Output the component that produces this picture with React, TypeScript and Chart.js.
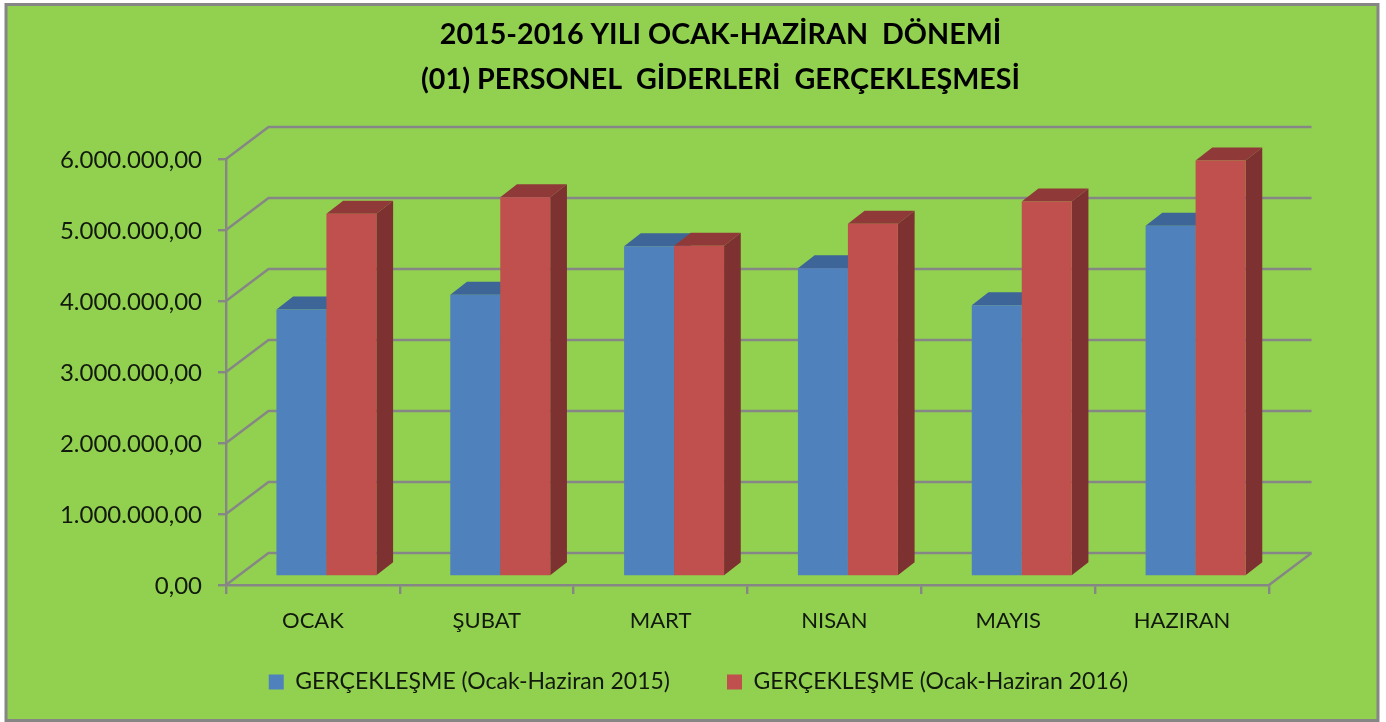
import React, { useEffect, useRef } from "react";
import { Chart, registerables } from "chart.js";

Chart.register(...registerables);

const categories = ["OCAK", "ŞUBAT", "MART", "NISAN", "MAYIS", "HAZIRAN"];
const series2015 = [3760000, 3970000, 4650000, 4340000, 3820000, 4940000];
const series2016 = [5110000, 5340000, 4660000, 4970000, 5280000, 5860000];
const label2015 = "GERÇEKLEŞME (Ocak-Haziran 2015)";
const label2016 = "GERÇEKLEŞME (Ocak-Haziran 2016)";
const titleLines = ["2015-2016 YILI OCAK-HAZİRAN  DÖNEMİ", "(01) PERSONEL  GİDERLERİ  GERÇEKLEŞMESİ"];

const FONT = "Lato";
const GRAY = "#868686";
const TEXT = "#111a0c";
const WALL = { dx: 42.5, dy: -32 };
const BAR_PLANE = { dx: 13.5, dy: -8.5 };
const BAR_DEPTH = { dx: 16.7, dy: -13 };

const fmt = (v: number) => {
  const s = String(Math.round(v)).replace(/\B(?=(\d{3})+(?!\d))/g, ".");
  return s + ",00";
};

const poly = (ctx: CanvasRenderingContext2D, pts: number[][], fill: string) => {
  ctx.beginPath();
  pts.forEach((p, i) => (i ? ctx.lineTo(p[0], p[1]) : ctx.moveTo(p[0], p[1])));
  ctx.closePath();
  ctx.fillStyle = fill;
  ctx.fill();
};

const drawBars3D = (chart: any, index: number, meta: any) => {
  const { ctx } = chart;
  const ds = chart.data.datasets[index];
  ctx.save();
  ctx.translate(BAR_PLANE.dx, BAR_PLANE.dy);
  meta.data.forEach((el: any) => {
    const l = el.x - el.width / 2;
    const r = el.x + el.width / 2;
    const { y, base } = el;
    const { dx, dy } = BAR_DEPTH;
    poly(ctx, [[r, y], [r + dx, y + dy], [r + dx, base + dy], [r, base]], ds.sideColor);
    poly(ctx, [[l, y], [l + dx, y + dy], [r + dx, y + dy], [r, y]], ds.topColor);
  });
  meta.controller.draw();
  ctx.restore();
};

const threeD = {
  id: "threeD",
  beforeDraw(chart: any) {
    const { ctx, width, height } = chart;
    ctx.save();
    ctx.fillStyle = "#ffffff";
    ctx.fillRect(0, 0, width, height);
    ctx.fillStyle = "#92D050";
    ctx.strokeStyle = GRAY;
    ctx.lineWidth = 3;
    ctx.beginPath();
    ctx.rect(6, 4.5, 1372, 716);
    ctx.fill();
    ctx.stroke();
    ctx.restore();
  },
  afterLayout(chart: any) {
    const t = chart.titleBlock;
    t.left += 86;
    t.right += 86;
    const l = chart.legend;
    l.left += 64;
    l.right += 64;
    l.top = 681 - 11.5 - l.options.labels.padding + 1;
  },
  beforeDatasetsDraw(chart: any) {
    const { ctx, chartArea, scales } = chart;
    ctx.save();
    ctx.strokeStyle = GRAY;
    ctx.lineWidth = 2.4;
    const { left, right } = chartArea;
    scales.y.ticks.forEach((t: any) => {
      const y = scales.y.getPixelForValue(t.value);
      ctx.beginPath();
      ctx.moveTo(left, y);
      ctx.lineTo(left + WALL.dx, y + WALL.dy);
      ctx.lineTo(right + WALL.dx, y + WALL.dy);
      ctx.stroke();
    });
    const b = scales.y.getPixelForValue(0);
    ctx.beginPath();
    ctx.moveTo(right, b);
    ctx.lineTo(right + WALL.dx, b + WALL.dy);
    ctx.stroke();
    ctx.restore();
  },
  // Chart.js paints the first dataset last; the 2016 bars must cover the 2015 bars' depth,
  // so every series is painted here in data order.
  beforeDatasetDraw() {
    return false;
  },
  afterDatasetsDraw(chart: any) {
    chart.data.datasets.forEach((_: any, i: number) => drawBars3D(chart, i, chart.getDatasetMeta(i)));
  },
};

export default function App() {
  const ref = useRef<HTMLCanvasElement>(null);
  useEffect(() => {
    const chart = new Chart(ref.current as HTMLCanvasElement, {
      type: "bar",
      data: {
        labels: categories,
        datasets: [
          {
            label: label2015,
            data: series2015,
            backgroundColor: "#4F81BD",
            topColor: "#3D6597",
            sideColor: "#3A5F8D",
          } as any,
          {
            label: label2016,
            data: series2016,
            backgroundColor: "#C0504D",
            topColor: "#8F3A39",
            sideColor: "#7D3130",
          } as any,
        ],
      },
      plugins: [threeD],
      options: {
        animation: false,
        responsive: false,
        layout: { padding: { left: 0, right: 117, top: 0, bottom: -30 } },
        datasets: { bar: { categoryPercentage: 0.575, barPercentage: 1 } },
        plugins: {
          tooltip: { enabled: false },
          title: {
            display: true,
            text: titleLines,
            color: "#000000",
            font: { family: FONT, size: 28.7, weight: "bold", lineHeight: 45 / 28.7 },
            padding: { top: 12, bottom: 57 },
          },
          legend: {
            display: true,
            position: "bottom",
            labels: {
              color: TEXT,
              font: { family: FONT, size: 23 },
              boxWidth: 15,
              boxHeight: 15,
              padding: 57,
            },
          },
        },
        scales: {
          x: {
            afterFit: (s: any) => {
              s.height = 167 - s.chart.legend.height;
            },
            grid: { drawOnChartArea: false, color: GRAY, lineWidth: 2.4, tickLength: 9 },
            border: { display: true, color: GRAY, width: 2.4 },
            ticks: { color: TEXT, font: { family: FONT, size: 22 }, padding: 14, maxRotation: 0 },
          },
          y: {
            min: 0,
            max: 6000000,
            afterFit: (s: any) => {
              s.width = 226;
            },
            grid: { drawOnChartArea: false, color: GRAY, lineWidth: 2.4, tickLength: 8 },
            border: { display: true, color: GRAY, width: 2.4 },
            ticks: {
              stepSize: 1000000,
              color: TEXT,
              font: { family: FONT, size: 24 },
              padding: 16,
              labelOffset: 1.5,
              callback: (v: any) => fmt(Number(v)),
            },
          },
        },
      } as any,
    });
    return () => chart.destroy();
  }, []);
  return (
    <div style={{ position: "fixed", left: 0, top: 0 }}>
      <canvas ref={ref} width={1386} height={722} style={{ display: "block" }} />
    </div>
  );
}
